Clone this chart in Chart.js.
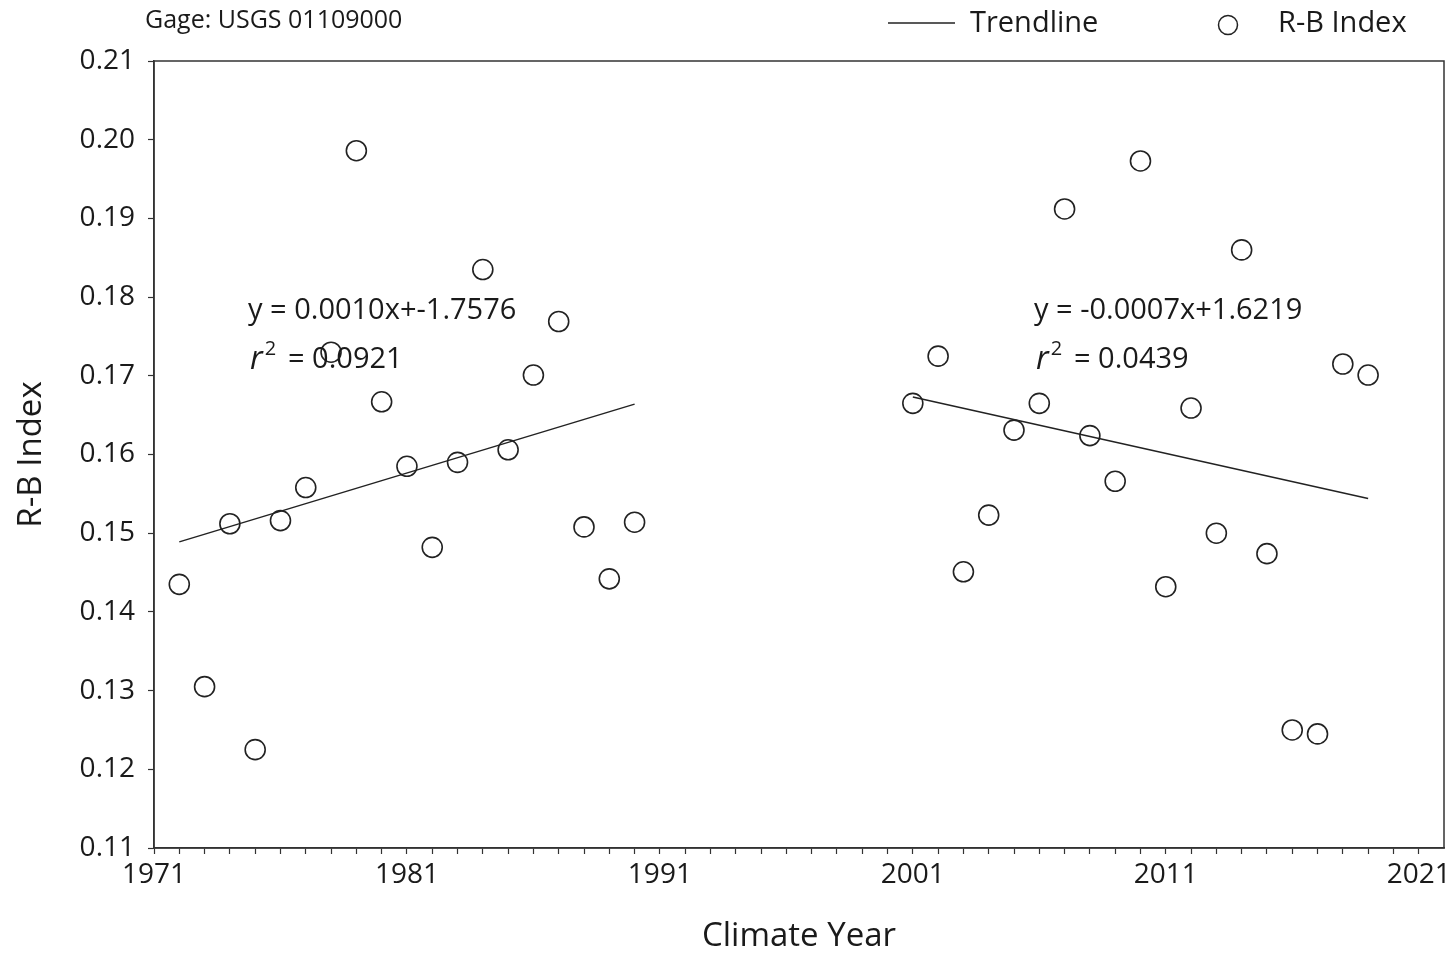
<!DOCTYPE html>
<html>
<head>
<meta charset="utf-8">
<script src="https://cdn.jsdelivr.net/npm/chart.js@4"></script>
<style>
  body { margin: 0; background: #fff; }
  #wrap { width: 1456px; height: 954px; position: relative; }
</style>
</head>
<body>
<div id="wrap"><canvas id="rbChart"></canvas></div>
<script>
// R-B index, first record (climate years 1972-1990)
const years1 = [1972, 1973, 1974, 1975, 1976, 1977, 1978, 1979, 1980, 1981,
                1982, 1983, 1984, 1985, 1986, 1987, 1988, 1989, 1990];
const rbIndex1 = [0.1435, 0.1305, 0.1512, 0.1225, 0.1516, 0.1558, 0.1730, 0.1986, 0.1667, 0.1585,
                  0.1482, 0.1590, 0.1835, 0.1606, 0.1701, 0.1769, 0.1508, 0.1442, 0.1514];

// second record (climate years 2001-2019)
const years2 = [2001, 2002, 2003, 2004, 2005, 2006, 2007, 2008, 2009, 2010,
                2011, 2012, 2013, 2014, 2015, 2016, 2017, 2018, 2019];
const rbIndex2 = [0.1665, 0.1725, 0.1451, 0.1523, 0.1631, 0.1665, 0.1912, 0.1624, 0.1566, 0.1973,
                  0.1432, 0.1659, 0.1500, 0.1860, 0.1474, 0.1250, 0.1245, 0.1715, 0.1701];

// trendline end points
const trendYears1 = [1972, 1990];
const trendValues1 = [0.1489, 0.1664];
const trendYears2 = [2001, 2019];
const trendValues2 = [0.1673, 0.1544];

const eqText1 = "y = 0.0010x+-1.7576";
const r2Text1 = "= 0.0921";
const eqText2 = "y = -0.0007x+1.6219";
const r2Text2 = "= 0.0439";

const gageText = "Gage: USGS 01109000";
const xTitle = "Climate Year";
const yTitle = "R-B Index";

const FONT = "'Open Sans', 'Noto Sans', sans-serif";
const INK = "#1a1a1a";

function toPoints(xs, ys) {
    return xs.map((x, i) => ({ x: x, y: ys[i] }));
}

// frame, legend and the regression text are drawn straight on the canvas
const extrasPlugin = {
    id: "extras",
    afterDraw(chart) {
        const c = chart.ctx;
        const a = chart.chartArea;
        c.save();
        c.strokeStyle = "#333";
        c.lineWidth = 1.5;
        c.strokeRect(a.left, a.top, a.right - a.left, a.bottom - a.top);

        c.fillStyle = INK;
        c.textBaseline = "middle";
        c.textAlign = "left";
        c.font = "25px " + FONT;
        c.fillText(gageText, 145, 21);

        // legend
        c.strokeStyle = "#222";
        c.lineWidth = 1.5;
        c.beginPath();
        c.moveTo(888, 23);
        c.lineTo(955, 23);
        c.stroke();
        c.font = "29px " + FONT;
        c.fillText("Trendline", 970, 24);
        c.beginPath();
        c.arc(1228, 25, 9.5, 0, Math.PI * 2);
        c.stroke();
        c.fillText("R-B Index", 1278, 24);

        // regression text
        drawEquation(c, eqText1, r2Text1, 248, 311, 360);
        drawEquation(c, eqText2, r2Text2, 1034, 311, 360);
        c.restore();
    }
};

function drawEquation(c, eq, r2, x, yEq, yR2) {
    c.font = "29px " + FONT;
    c.fillText(eq, x, yEq);
    c.font = "italic 32px " + FONT;
    c.fillText("r", x + 2, yR2);
    const rw = c.measureText("r").width;
    c.font = "20px " + FONT;
    c.fillText("2", x + 2 + rw + 2, yR2 - 11);
    c.font = "29px " + FONT;
    c.fillText(r2, x + 40, yR2);
}

const ctx = document.getElementById("rbChart").getContext("2d");
const rbChart = new Chart(ctx, {
    type: "scatter",
    data: {
        datasets: [
            {
                label: "Trendline",
                data: toPoints(trendYears1, trendValues1),
                showLine: true,
                borderColor: "#222",
                borderWidth: 1.5,
                pointRadius: 0
            },
            {
                label: "Trendline",
                data: toPoints(trendYears2, trendValues2),
                showLine: true,
                borderColor: "#222",
                borderWidth: 1.5,
                pointRadius: 0
            },
            {
                label: "R-B Index",
                data: toPoints(years1, rbIndex1),
                pointStyle: "circle",
                pointRadius: 10,
                borderWidth: 1.6,
                borderColor: "#222",
                backgroundColor: "rgba(0,0,0,0)"
            },
            {
                label: "R-B Index",
                data: toPoints(years2, rbIndex2),
                pointStyle: "circle",
                pointRadius: 10,
                borderWidth: 1.6,
                borderColor: "#222",
                backgroundColor: "rgba(0,0,0,0)"
            }
        ]
    },
    options: {
        responsive: true,
        maintainAspectRatio: false,
        animation: false,
        layout: { padding: { top: 61, right: 12, left: 0, bottom: 0 } },
        plugins: {
            legend: { display: false },
            tooltip: { enabled: false }
        },
        scales: {
            x: {
                type: "linear",
                min: 1971,
                max: 2022,
                afterFit: (scale) => { scale.height = 106; },
                border: { display: true, color: "#333", width: 1.5 },
                grid: {
                    drawOnChartArea: false,
                    tickLength: 6,
                    tickColor: (c) => (c.tick && c.tick.value === 2022 ? "rgba(0,0,0,0)" : "#333"),
                    tickWidth: 1.2
                },
                ticks: {
                    stepSize: 1,
                    autoSkip: false,
                    maxRotation: 0,
                    padding: 4,
                    color: INK,
                    font: { family: FONT, size: 28 },
                    callback: (v) => ((v - 1971) % 10 === 0 ? String(v) : "")
                },
                title: {
                    display: true,
                    text: xTitle,
                    color: INK,
                    font: { family: FONT, size: 33, lineHeight: 1 },
                    padding: { top: 0, bottom: 1 }
                }
            },
            y: {
                min: 0.11,
                max: 0.21,
                afterFit: (scale) => { scale.width = 154; },
                border: { display: true, color: "#333", width: 1.5 },
                grid: {
                    drawOnChartArea: false,
                    tickLength: 6,
                    tickColor: "#333",
                    tickWidth: 1.2
                },
                ticks: {
                    stepSize: 0.01,
                    padding: 13,
                    color: INK,
                    font: { family: FONT, size: 28 },
                    callback: (v) => v.toFixed(2)
                },
                title: {
                    display: true,
                    text: yTitle,
                    color: INK,
                    font: { family: FONT, size: 33, lineHeight: 1 },
                    padding: { top: 15, bottom: 0 }
                }
            }
        }
    },
    plugins: [extrasPlugin]
});
</script>
</body>
</html>
